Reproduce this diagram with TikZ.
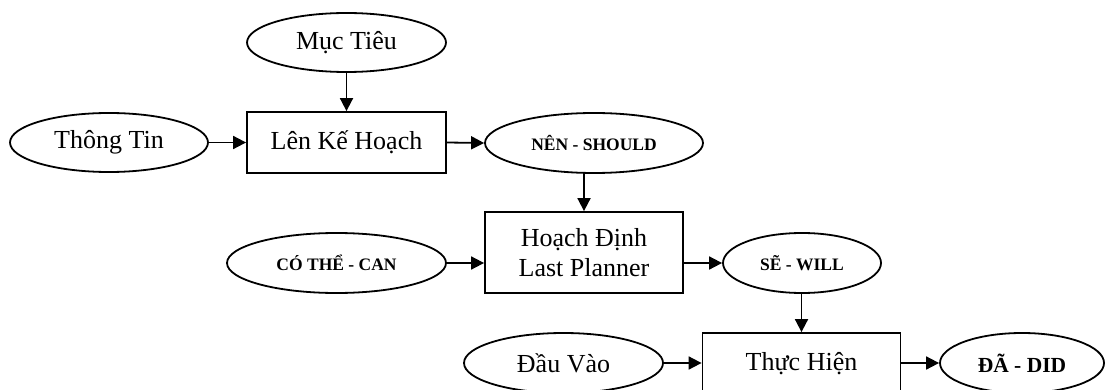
\documentclass[tikz,border=0pt]{standalone}
\usepackage{fontspec}
\setmainfont{Liberation Serif}
\usetikzlibrary{shapes.geometric,arrows.meta}

\tikzset{
  line/.style={line width=1.8pt},
  oval/.style={line, draw, ellipse, inner sep=0pt, align=center},
  stepbox/.style={line, draw, rectangle, inner sep=0pt, align=center},
  big/.style={font=\fontsize{26}{30}\selectfont},
  tag/.style={font=\fontsize{17.5}{20}\selectfont\bfseries},
  link/.style={line, -{Triangle[length=13pt,width=13pt]}}
}

\begin{document}
\begin{tikzpicture}[x=1pt,y=-1pt]
\useasboundingbox (0,0) rectangle (1105,390);

% planning level
\node[oval, big, minimum width=199pt, minimum height=59pt] (goal) at (346.5,42.5) {Mục Tiêu};
\node[oval, big, minimum width=198pt, minimum height=59pt] (info) at (109,142.5) {Thông Tin};
\node[stepbox, big, minimum width=199pt, minimum height=61pt] (plan) at (346.5,142.5) {Lên Kế Hoạch};
\node[oval, tag, minimum width=218pt, minimum height=60pt] (should) at (594,143) {NÊN - SHOULD};

% last planner level
\node[stepbox, big, minimum width=198pt, minimum height=81pt] (lp) at (584,252.5) {Hoạch Định\\Last Planner};
\node[oval, tag, minimum width=219pt, minimum height=60pt] (can) at (336.5,263) {CÓ THỂ - CAN};
\node[oval, tag, minimum width=158pt, minimum height=60pt] (will) at (802,263) {SẼ - WILL};

% execution level
\node[oval, big, minimum width=199pt, minimum height=60pt] (input) at (563.5,363) {Đầu Vào};
\node[stepbox, big, minimum width=198pt, minimum height=61pt] (exec) at (801.5,363.5) {Thực Hiện};
\node[oval, font=\fontsize{21.5}{24}\selectfont\bfseries, minimum width=164pt, minimum height=60pt] (did) at (1022,363) {ĐÃ - DID};

% connectors
\draw[link] (goal.south) -- (plan.north);
\draw[link] (info.east) -- (plan.west);
\draw[link] (plan.east) -- (should.west);
\draw[link] (lp.north |- should.south) -- (lp.north);
\draw[link] (can.east) -- (can.east -| lp.west);
\draw[link] (lp.east |- will.west) -- (will.west);
\draw[link] (exec.north |- will.south) -- (exec.north);
\draw[link] (input.east) -- (input.east -| exec.west);
\draw[link] (exec.east |- did.west) -- (did.west);
\end{tikzpicture}
\end{document}
